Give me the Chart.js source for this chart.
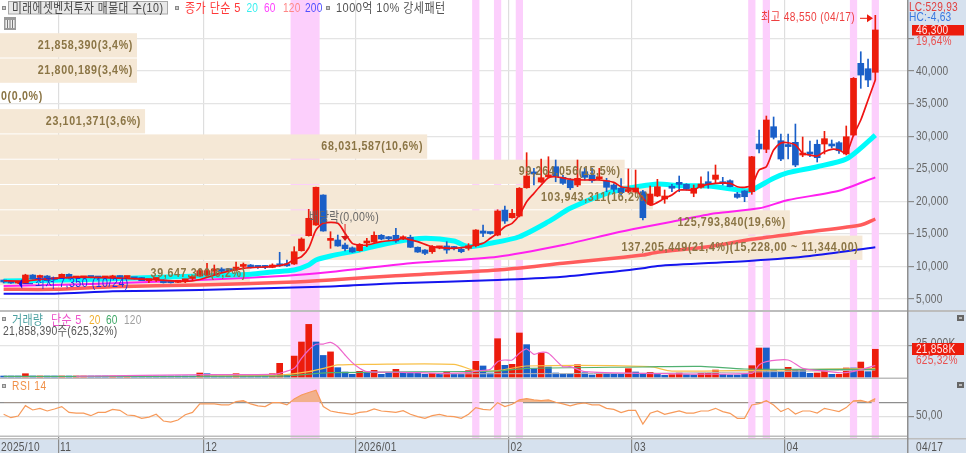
<!DOCTYPE html>
<html>
<head>
<meta charset="utf-8">
<title>미래에셋벤처투자</title>
<script src="https://cdn.jsdelivr.net/npm/chart.js@4"></script>
<style>
  html, body { margin: 0; padding: 0; background: #fff; overflow: hidden; }
  canvas { display: block; }
</style>
</head>
<body>
<canvas id="chart" width="966" height="453"></canvas>
<script>
// trading days, four empty slots are left free at the right
const dates = [
  '2025/10/22','10/23','10/24','10/27','10/28','10/29','10/30','10/31',
  '11/03','11/04','11/05','11/06','11/07','11/10','11/11','11/12','11/13','11/14','11/17','11/18','11/19','11/20','11/21','11/24','11/25','11/26','11/27','11/28',
  '12/01','12/02','12/03','12/04','12/05','12/08','12/09','12/10','12/11','12/12','12/15','12/16','12/17','12/18','12/19','12/22','12/23','12/24','12/26','12/29','12/30',
  '2026/01/02','01/05','01/06','01/07','01/08','01/09','01/12','01/13','01/14','01/15','01/16','01/19','01/20','01/21','01/22','01/23','01/26','01/27','01/28','01/29','01/30',
  '02/02','02/03','02/04','02/05','02/06','02/09','02/10','02/11','02/12','02/13','02/19','02/20','02/23','02/24','02/25','02/26','02/27',
  '03/03','03/04','03/05','03/06','03/09','03/10','03/11','03/12','03/13','03/16','03/17','03/18','03/19','03/20','03/23','03/24','03/25','03/26','03/27','03/30','03/31',
  '04/01','04/02','04/03','04/06','04/07','04/08','04/09','04/10','04/13','04/14','04/15','04/16','04/17',
  '','','',''
];
const monthTicks = { 0: '2025/10', 8: '11', 28: '12', 49: '2026/01', 70: '02', 87: '03', 108: '04' };

const opens = [7760,7530,7450,7380,8680,8300,8530,8070,8180,8790,8220,8250,8370,8340,8230,8200,8500,8300,8180,8300,7820,8000,7900,7650,7550,7800,8150,8530,8700,9300,9600,9450,9500,10000,10220,9950,9950,9850,10200,10200,10370,12410,14720,16360,20960,14000,14060,13290,12860,12420,13600,13750,14780,14300,14780,14250,14470,12940,12520,12260,12850,13140,12830,12630,12780,13180,15440,15150,14820,18660,17480,17740,22080,24400,22960,23750,25310,23680,23270,22500,24540,24030,23450,23160,22500,22000,21500,21420,21470,19540,20810,20350,22100,22910,22600,21230,22150,23000,23370,23000,23160,21120,21580,21470,28790,27980,31450,29300,28600,29050,27100,27460,28750,28790,28790,28990,27260,30170,41180,40350,39800];
const closes = [7610,7455,7530,8680,8120,8450,7810,7990,8790,8180,8420,8420,8300,8220,8300,8560,8300,8380,8100,7810,7900,8100,7500,7500,7620,7900,8250,9340,9340,9420,9250,9350,9900,10150,9800,9850,9850,10220,10100,10100,12260,14210,17390,22150,15440,14150,13140,12720,12220,13400,13730,14780,14210,14250,13900,14400,12940,12210,12010,13030,12940,12520,12750,12260,13180,15590,15090,15050,18510,16970,18150,22000,23880,24200,23620,23900,23780,22760,22080,23530,23680,23160,23530,22150,21840,21320,21620,22040,17480,21120,22240,20810,22000,22600,21840,22000,22650,22700,24030,22700,22240,20610,20700,26840,28030,32480,29820,26490,28400,25570,27360,27260,26690,29610,28490,27760,29910,38880,39380,38620,46300];
const highs = [7915,7600,7610,8800,8750,8680,8600,8150,8850,8850,8480,8480,8450,8420,8380,8650,8560,8450,8250,8330,7980,8200,7950,7700,7700,8000,8500,9600,10480,10220,9800,9600,10650,10530,10300,10100,10150,10400,12170,10990,13030,14400,18770,22200,21000,15330,14820,13600,13000,13500,14320,15330,14900,14600,15850,14700,14800,13000,12600,13200,13100,13800,13100,12800,13500,15650,16360,15250,18700,19280,18770,22100,27460,25060,26490,26840,26340,24000,23500,26340,25060,25060,25060,23530,22700,23500,24960,24800,21700,22350,23370,21730,22600,23880,22700,22500,23770,24540,25570,23680,23300,21380,21650,26900,30940,33090,32940,30330,30330,31860,29870,29250,29410,30740,29410,29150,31560,39000,42960,41840,48550];
const lows = [7455,7400,7350,7350,8050,7810,7750,7900,8150,8100,8150,8200,8250,8150,8150,8150,8250,8250,8050,7810,7500,7700,7450,7450,7500,7500,7850,8500,8600,8700,9100,9250,9400,9800,9750,9700,9650,9800,10000,10000,10300,12350,14650,16300,15400,12780,13100,12370,12150,12350,13030,13700,14100,14050,13700,14100,12900,12150,11800,12000,12700,12010,12550,12100,12500,13000,14560,14950,14700,16620,17400,17600,22000,22500,22900,23600,23000,22600,21800,22240,23270,22900,23250,21470,21500,20960,21300,21200,17130,19430,20700,19690,21470,21470,21700,20700,22000,22000,22760,22500,22200,20460,19940,21070,27410,27460,29560,26230,26490,25310,26840,26840,26030,27260,28180,27360,27110,30000,37340,37590,38620];

// moving averages, [bar, value]
const ma5 = [[0,7800],[3,7750],[5,8000],[10,8350],[15,8250],[20,8000],[25,7700],[27,8000],[30,9000],[33,9700],[37,10000],[39,10400],[40,11090],[41,11490],[42,12830],[43,15590],[44,16620],[46,16620],[47,15080],[48,13550],[49,13290],[50,13290],[52,13800],[54,14060],[55,14320],[57,13800],[59,13030],[62,12780],[64,13030],[65,13290],[66,13550],[67,14320],[68,15080],[69,16100],[70,16620],[71,17890],[72,19940],[73,21220],[74,22500],[75,23620],[76,23770],[78,23370],[80,23270],[82,23270],[84,22910],[85,22240],[87,21730],[89,19430],[91,20460],[92,20960],[93,21730],[95,21730],[96,22350],[98,22760],[100,22760],[101,22240],[102,22150],[103,22500],[104,24800],[105,25310],[106,27870],[107,28950],[108,28990],[109,28640],[110,27360],[111,27100],[112,26950],[113,27610],[114,27980],[115,27870],[116,27360],[117,30170],[118,32480],[119,35550],[120,38620]];
const ma20 = [[0,7760],[5,7840],[14,8070],[27,8530],[34,8790],[37,9145],[40,9450],[42,10220],[43,10990],[45,11600],[49,12520],[54,13800],[58,14320],[62,13900],[64,13030],[67,13550],[71,14560],[75,16870],[78,18920],[83,21220],[86,21990],[90,22650],[93,22400],[97,22350],[102,21620],[103,21730],[106,23530],[108,24390],[112,25310],[116,26490],[119,29150],[120,30170]];
const ma60 = [[0,7000],[7,7150],[17,7500],[27,7915],[39,8580],[45,9150],[56,10480],[68,11490],[77,13290],[84,15080],[88,16000],[92,16860],[98,18150],[104,18920],[108,20200],[115,21620],[120,23680]];
const ma120 = [[0,6490],[7,6490],[15,6890],[27,7150],[39,7560],[45,7915],[54,8580],[68,9450],[77,10480],[84,11250],[88,11750],[90,12170],[97,13030],[103,14160],[111,15330],[118,16360],[120,17280]];
const ma200 = [[0,5810],[7,5810],[15,6180],[27,6380],[45,6930],[54,7410],[68,7915],[77,8420],[84,9190],[88,9710],[90,10070],[103,10880],[111,11600],[120,12940]];

const volumes = [500,700,600,2600,800,800,600,700,800,700,800,800,600,700,600,700,500,600,500,500,400,400,400,400,400,400,400,3150,2600,900,700,600,2600,900,900,700,900,2600,10800,1700,16500,27600,41500,27600,17000,19800,7360,3940,2100,4470,3940,5260,2100,3150,6050,3400,2900,2900,2100,2900,2100,3940,2100,2100,5000,12350,8700,3150,30200,9200,10000,34700,25500,6570,18900,7880,3150,2360,2360,9700,3400,1580,3400,2360,2100,2100,6570,3940,2900,3680,2100,1300,1840,3150,1840,1580,2900,2900,5500,2100,1580,1580,2100,8940,22870,22870,5500,4200,7620,5500,5260,2900,3150,5000,2100,2100,7100,7100,11800,4200,21858];
const volRed = [3,5,8,10,11,15,17,27,32,37,38,40,41,42,45,49,51,54,59,61,64,65,68,70,71,74,79,82,86,89,92,93,96,97,98,103,104,108,112,113,115,116,118,120];
const volMa5 = [[10,600],[28,1800],[37,2000],[38,2900],[40,6840],[41,14730],[42,21300],[43,25800],[44,26000],[45,27350],[46,23900],[47,17360],[48,11300],[49,6840],[50,4200],[55,3700],[60,2900],[64,3400],[65,4700],[67,6050],[68,12100],[69,13400],[70,13400],[71,18700],[72,22100],[73,17900],[74,19500],[75,18700],[77,8150],[78,8150],[80,4200],[88,2900],[103,2900],[104,9500],[105,12100],[108,13400],[110,6840],[113,4700],[116,3420],[120,8950]];
const volMa20 = [[27,800],[38,1500],[42,4200],[45,8150],[46,9500],[50,10000],[62,10000],[65,5000],[68,5000],[72,8680],[89,8150],[92,4700],[120,6840]];
const volMa60 = [[0,500],[38,700],[45,3420],[68,4730],[72,6840],[88,7900],[96,8400],[102,6310],[120,6000]];
const volMa120 = [[60,2500],[90,3000],[120,5500]];

const rsi = [53.3,48.6,50.9,65.3,59.3,61.6,57.9,60.7,64,56,55,55,51.4,56,56,60.2,58.8,52.3,51.4,47.7,49.5,53.3,44,42.6,45.4,52.8,56,67.7,67.7,67.7,66.3,66.3,71,72.3,67.7,64.9,64,69.5,69.5,66.3,74.7,80.2,83.5,86.7,64,57.9,56,54.7,53.3,56,57,60.7,57.9,57,56,58.4,53.3,50,47.7,51.4,53.3,50.9,50,47.7,53.3,62.6,60.2,59.3,69.5,64,67.2,73.3,75.1,73.3,72.3,73.3,70,67.7,64.9,67.7,69,66.3,66.3,61.6,60.2,55.6,58.8,58.8,39.8,54.7,57.9,53.3,55.6,57.9,55,55,57.9,57.9,61.6,57,54.7,47.7,47.7,66.3,68.1,72.3,66.3,57,61.6,53.7,57.9,57.9,55,61.6,59.3,57,62.6,71.9,72.8,70,75.1];

// 매물대 rows, top of first row and height of a row in won
const profileLabels = ['21,858,390(3,4%)','21,800,189(3,4%)','0(0,0%)','23,101,371(3,6%)','68,031,587(10,6%)','99,264,056(15,5%)','103,943,311(16,2%)','125,793,840(19,6%)','137,205,449(21,4%)(15,228,00 ~ 11,344,00)','39,647,300(6,2%)'];
const profilePct = [3.4,3.4,0,3.6,10.6,15.5,16.2,19.6,21.4,6.2];
const profileTop = 45880;
const profileStep = 3884;

// strong pattern days
const bands = [[40,43],[65,65],[68,68],[71,71],[103,103],[105,105],[117,117],[120,120]];

const priceTicks = [5000,10000,15000,20000,25000,30000,35000,40000,45000];
const volTicks = [25000];
const rsiTicks = [50,70];

const RED = '#ec1c0c', BLUE = '#1a5fc8';
const FONT = '"Liberation Sans","Noto Sans CJK KR",sans-serif';
const pts = (list) => list.map(([i, y]) => ({ x: dates[i], y }));
const candleColor = (i) => closes[i] >= opens[i] ? RED : BLUE;
const line = (list, color, width, axis, order) => ({
  type: 'line', data: pts(list), borderColor: color, borderWidth: width,
  pointRadius: 0, yAxisID: axis, order, fill: false, tension: 0.25
});

// the source font is tall and narrow, so text gets squeezed sideways
function text(c, str, x, y, color, opts) {
  const o = Object.assign({ size: 13, weight: '', squeeze: 0.78, spacing: 0.3, align: 'left' }, opts);
  c.save();
  c.translate(x, y);
  c.scale(o.squeeze, 1);
  c.font = `${o.weight} ${o.size}px ${FONT}`;
  c.fillStyle = color;
  c.textAlign = o.align;
  c.textBaseline = 'middle';
  c.letterSpacing = o.spacing + 'px';
  c.fillText(str, 0, 0);
  c.restore();
}

function square(c, x, y) {
  c.fillStyle = '#8a8a8a';
  c.fillRect(x, y, 4, 4);
  c.fillStyle = '#c8c8c8';
  c.fillRect(x + 1, y + 1, 2, 2);
}

const chartDecor = {
  id: 'chartDecor',
  beforeDraw(chart) {
    const c = chart.ctx, a = chart.chartArea;
    c.fillStyle = '#fff';
    c.fillRect(0, 0, 966, 453);
    c.fillStyle = '#d6e1ee';
    c.fillRect(a.right, 0, 966 - a.right, 453);
    c.fillRect(0, 439.5, 966, 14);
  },
  beforeDatasetsDraw(chart) {
    const c = chart.ctx, x = chart.scales.x, y = chart.scales.y;
    const half = x.width / dates.length / 2;
    c.fillStyle = '#fccffc';
    bands.forEach(([from, to]) => {
      const l = x.getPixelForValue(from) - half, r = x.getPixelForValue(to) + half;
      c.fillRect(l, 0, r - l, 439);
    });
    c.fillStyle = '#f5e8d6';
    profilePct.forEach((pct, i) => {
      const top = y.getPixelForValue(profileTop - profileStep * i);
      const bot = y.getPixelForValue(profileTop - profileStep * (i + 1));
      c.fillRect(0, top + 0.5, pct * 40.3, bot - top - 1);
    });
    // pane separators
    c.fillStyle = '#bdbdbd';
    c.fillRect(0, 310, 966, 2);
    c.fillRect(0, 377.5, 908, 1.5);
    c.fillRect(0, 435.5, 908, 1.5);
    c.fillRect(0, 438, 966, 1.5);
    c.fillStyle = '#8f8f8f';
    c.fillRect(907, 0, 1.5, 453);
  },
  afterDatasetsDraw(chart) {
    const c = chart.ctx, x = chart.scales.x, y = chart.scales.y;
    const half = x.width / dates.length / 2;
    const bold = { weight: 'bold', spacing: 0.8, squeeze: 0.82 };

    profileLabels.forEach((label, i) => {
      const mid = y.getPixelForValue(profileTop - profileStep * (i + 0.5));
      const right = profilePct[i] * 40.3;
      if (profilePct[i] > 0) text(c, label, right - 4, mid, '#8b7545', { ...bold, align: 'right' });
      else text(c, label, 1, mid, '#8b7545', bold);
    });

    // axis labels
    Object.keys(monthTicks).forEach((i) => {
      const left = i > 0 ? x.getPixelForValue(+i) - half + 2 : 1;
      text(c, monthTicks[i], left, 447, '#555', { spacing: 0.4 });
    });
    priceTicks.filter((v) => v < 45000).forEach((v) => {
      text(c, v.toLocaleString('en-US'), 916, y.getPixelForValue(v), '#666');
    });
    volTicks.forEach((v) => {
      text(c, v.toLocaleString('en-US') + 'K', 916, chart.scales.yv.getPixelForValue(v) - 2, '#666');
    });
    text(c, '50,00', 916, chart.scales.yr.getPixelForValue(50) - 1, '#666');

    // 배당락 marker
    const divX = x.getPixelForValue(47);
    c.strokeStyle = '#e02020';
    c.lineWidth = 1;
    c.beginPath(); c.moveTo(divX, 224); c.lineTo(divX, 236); c.stroke();
    c.fillStyle = '#d81818';
    c.beginPath(); c.moveTo(divX - 4, 236); c.lineTo(divX + 4, 236); c.lineTo(divX, 241); c.fill();
    text(c, '배당락(0,00%)', 309, 217, '#666', { spacing: 0.4, squeeze: 0.82 });

    // highest / lowest
    const hiY = y.getPixelForValue(48550);
    text(c, '최고 48,550 (04/17)', 761, hiY + 2.5, '#ee4040', { spacing: 0.5, squeeze: 0.78 });
    c.strokeStyle = RED; c.lineWidth = 1;
    c.beginPath(); c.moveTo(860, hiY + 3); c.lineTo(870, hiY + 3); c.stroke();
    c.fillStyle = RED;
    c.beginPath(); c.moveTo(867, hiY - 1); c.lineTo(873, hiY + 3); c.lineTo(867, hiY + 7); c.fill();
    const loX = x.getPixelForValue(2), loY = y.getPixelForValue(7350);
    c.strokeStyle = '#2020e0';
    c.beginPath(); c.moveTo(loX + 5, loY); c.lineTo(33, loY); c.stroke();
    c.fillStyle = '#1010e0';
    c.beginPath(); c.moveTo(loX + 4, loY - 5); c.lineTo(loX + 4, loY + 5); c.lineTo(loX + 0.5, loY); c.fill();
    text(c, '최저 7,350 (10/24)', 35, loY, '#2030e0', { spacing: 0.6, squeeze: 0.82 });

    // header row
    square(c, 2, 6);
    c.fillStyle = '#e8e8e8'; c.fillRect(8.5, 1.5, 159, 12.5);
    c.strokeStyle = '#a8a8a8'; c.strokeRect(8.5, 1.5, 159, 12.5);
    text(c, '미래에셋벤처투자 매물대 수(10)', 12, 8, '#444', { spacing: 0.6, squeeze: 0.82 });
    square(c, 175, 6);
    text(c, '종가 단순 5', 185, 8, '#ff3838', { spacing: 0.5, squeeze: 0.85 });
    text(c, '20', 246.5, 8, '#38f0f0');
    text(c, '60', 264, 8, '#ff40ff');
    text(c, '120', 283, 8, '#ff8888');
    text(c, '200', 305, 8, '#5050ff');
    square(c, 326, 6);
    text(c, '1000억 10% 강세패턴', 336, 8, '#555', { spacing: 0.5, squeeze: 0.85 });
    c.fillStyle = '#9a9a9a'; c.fillRect(4, 17, 12, 13);
    c.fillStyle = '#f0f0f0'; c.fillRect(5.5, 20, 9, 8);
    c.fillStyle = '#777';
    [7, 9.5, 12].forEach((bx) => c.fillRect(bx, 20, 1, 8));

    // volume pane header
    square(c, 2, 317);
    text(c, '거래량', 12, 320, '#4aa0a0', { squeeze: 0.85 });
    text(c, '단순 5', 51, 320, '#ee55cc', { squeeze: 0.85 });
    text(c, '20', 89, 320, '#f0b030');
    text(c, '60', 106, 320, '#40a868');
    text(c, '120', 124, 320, '#a0a0a0');
    text(c, '21,858,390주(625,32%)', 3, 331, '#555', { squeeze: 0.8 });

    // rsi pane header
    square(c, 2, 384);
    text(c, 'RSI 14', 12, 386, '#f09048', { spacing: 0.8 });

    // right hand side readouts
    text(c, 'LC:529,93', 909, 7, '#e04040');
    text(c, 'HC:-4,63', 909, 17, '#3878e0');
    c.fillStyle = RED; c.fillRect(912, 25, 52, 10.5);
    text(c, '46,300', 916, 30, '#ffe8e8');
    text(c, '19,64%', 916, 41, '#e85050');
    c.fillStyle = RED; c.fillRect(912, 343, 52, 12);
    text(c, '21,858K', 916, 349, '#ffe8e8');
    text(c, '625,32%', 916, 360, '#e85050');
    [318, 385].forEach((iy) => {
      c.fillStyle = '#666'; c.fillRect(957, iy - 3, 7, 6);
      c.fillStyle = '#bbb'; c.fillRect(959, iy - 1, 3, 2);
    });
    text(c, '04/17', 916, 447, '#555', { spacing: 0.5 });
  }
};

const noPadding = (s) => {
  s.paddingTop = 0; s.paddingBottom = 0; s.paddingLeft = 0; s.paddingRight = 0;
};

new Chart(document.getElementById('chart').getContext('2d'), {
  type: 'bar',
  plugins: [chartDecor],
  data: {
    labels: dates,
    datasets: [
      line(ma200, '#1515ee', 2, 'y', 20),
      line(ma120, '#ff5c5c', 3.5, 'y', 19),
      line(ma60, '#ff20f0', 2, 'y', 18),
      line(ma20, '#00fbfb', 5, 'y', 17),
      {
        data: lows.map((v, i) => [v, highs[i]]),
        backgroundColor: lows.map((v, i) => candleColor(i)),
        barThickness: 1, grouped: false, borderWidth: 0, yAxisID: 'y', order: 6
      },
      {
        data: opens.map((v, i) => [v, closes[i]]),
        backgroundColor: opens.map((v, i) => candleColor(i)),
        barThickness: 6, minBarLength: 2, grouped: false, borderWidth: 0, yAxisID: 'y', order: 5
      },
      line(ma5, '#f01414', 1.7, 'y', 1),
      {
        data: volumes,
        backgroundColor: volumes.map((v, i) => volRed.includes(i) ? RED : BLUE),
        barThickness: 6, minBarLength: 1, grouped: false, borderWidth: 0, yAxisID: 'yv', order: 10
      },
      line(volMa120, '#b8b8b8', 1, 'yv', 4),
      line(volMa60, '#50b070', 1.2, 'yv', 3),
      line(volMa20, '#f8c048', 1.2, 'yv', 3),
      line(volMa5, '#ee66cc', 1.2, 'yv', 2),
      {
        type: 'line', data: rsi, borderColor: '#f79a5a', borderWidth: 1.2, pointRadius: 0,
        yAxisID: 'yr', order: 2, tension: 0,
        fill: { value: 70, above: 'rgba(240,170,120,0.85)', below: 'rgba(0,0,0,0)' }
      }
    ]
  },
  options: {
    responsive: false,
    animation: false,
    devicePixelRatio: 1,
    events: [],
    layout: { padding: 0 },
    plugins: { legend: { display: false }, tooltip: { enabled: false } },
    scales: {
      x: {
        offset: true,
        afterFit(s) { s.height = 16; noPadding(s); },
        grid: {
          offset: true, tickLength: 16, lineWidth: 1.2,
          color: (ctx) => monthTicks[ctx.index] !== undefined && ctx.index > 0 ? '#dedede' : 'rgba(0,0,0,0)',
          tickColor: (ctx) => monthTicks[ctx.index] !== undefined && ctx.index > 0 ? '#8c8c8c' : 'rgba(0,0,0,0)'
        },
        border: { display: false },
        ticks: { display: false, autoSkip: false, maxRotation: 0, minRotation: 0 }
      },
      y: {
        position: 'right', stack: 'panes', stackWeight: 311, min: 3158, max: 50900,
        afterFit(s) { s.width = 58; noPadding(s); },
        afterBuildTicks(s) { s.ticks = priceTicks.map((value) => ({ value })); },
        grid: { color: '#e4e4e4', lineWidth: 1.2, tickLength: 6, tickColor: '#8c8c8c' },
        border: { display: false },
        ticks: { display: false }
      },
      yv: {
        position: 'right', stack: 'panes', stackWeight: 67, min: -790, max: 52050,
        afterFit(s) { s.width = 58; noPadding(s); },
        afterBuildTicks(s) { s.ticks = volTicks.map((value) => ({ value })); },
        grid: { color: '#e4e4e4', lineWidth: 1.2, tickLength: 6, tickColor: '#8c8c8c' },
        border: { display: false },
        ticks: { display: false }
      },
      yr: {
        position: 'right', stack: 'panes', stackWeight: 59, min: 21.8, max: 103.7,
        afterFit(s) { s.width = 58; noPadding(s); },
        afterBuildTicks(s) { s.ticks = rsiTicks.map((value) => ({ value })); },
        grid: {
          color: (ctx) => ctx.tick && ctx.tick.value === 70 ? '#8e8e8e' : '#e0e0e0',
          lineWidth: 1.2, tickLength: 6,
          tickColor: (ctx) => ctx.tick && ctx.tick.value === 70 ? 'rgba(0,0,0,0)' : '#8c8c8c'
        },
        border: { display: false },
        ticks: { display: false }
      }
    }
  }
});
</script>
</body>
</html>
